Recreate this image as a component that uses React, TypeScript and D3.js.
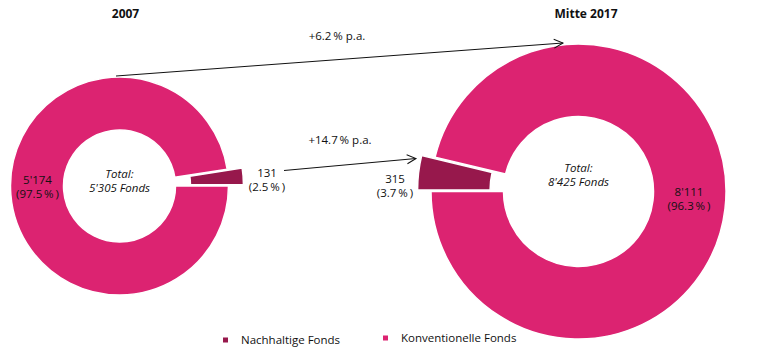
import React from "react";
import * as d3 from "d3";

const categories = ["Nachhaltige Fonds", "Konventionelle Fonds"];
const periods = ["2007", "Mitte 2017"];
const nachhaltig = [131, 315];
const konventionell = [5174, 8111];
const totals = [5305, 8425];
const growthLabels = ["+6.2\u2009% p.a.", "+14.7\u2009% p.a."];

const PINK = "#dc2371";
const DARK = "#97184c";
const FONT = "'Open Sans', 'Noto Sans', sans-serif";
const W = 766;
const H = 353;

const deg = (d: number) => (d * Math.PI) / 180;
const fmtInt = (v: number) => d3.format(",")(v).replace(/,/g, "'");
const fmtPct = (v: number) => "(" + d3.format(".1f")(v * 100) + "\u2009%\u2009)";

// layout (positions/sizes only)
const layout = [
  { cx: 119.5, cy: 186, r: 109, ir: 56, nachFirst: false, start: 90, explode: 15,
    konvLabel: [37.5, 186.5], nachLabel: [267, 180], totalY: 185 },
  { cx: 578.5, cy: 191.5, r: 147.5, ir: 75, nachFirst: true, start: 270, explode: 13.5,
    konvLabel: [689, 198.5], nachLabel: [395, 185.5], totalY: 178.5 },
];

function Donut({ i }: { i: number }) {
  const L = layout[i];
  const total = totals[i];
  const items = L.nachFirst
    ? [{ k: 0, v: nachhaltig[i] }, { k: 1, v: konventionell[i] }]
    : [{ k: 1, v: konventionell[i] }, { k: 0, v: nachhaltig[i] }];
  const pie = d3
    .pie<{ k: number; v: number }>()
    .sort(null)
    .value((d) => d.v)
    .startAngle(deg(L.start))
    .endAngle(deg(L.start + 360));
  const arc = d3
    .arc<d3.PieArcDatum<{ k: number; v: number }>>()
    .innerRadius(L.ir)
    .outerRadius(L.r);
  const arcs = pie(items);
  return (
    <g>
      <g transform={`translate(${L.cx},${L.cy})`}>
        {arcs.map((a, j) => {
          let tx = 0,
            ty = 0;
          if (a.data.k === 0) {
            const mid = (a.startAngle + a.endAngle) / 2;
            tx = Math.sin(mid) * L.explode;
            ty = -Math.cos(mid) * L.explode;
          }
          return (
            <path
              key={j}
              d={arc(a) || ""}
              transform={`translate(${tx},${ty})`}
              fill={a.data.k === 0 ? DARK : PINK}
              stroke="#fff"
              strokeWidth={1.5}
              strokeLinejoin="miter"
            />
          );
        })}
      </g>
      <text
        x={L.cx}
        y={L.totalY}
        textAnchor="middle"
        fontStyle="italic"
        fontSize={11.5}
        fontFamily={FONT}
        fill="#111"
      >
        <tspan x={L.cx} dy={-7}>Total:</tspan>
        <tspan x={L.cx} dy={14}>{fmtInt(total) + " Fonds"}</tspan>
      </text>
      <text
        x={L.konvLabel[0]}
        y={L.konvLabel[1]}
        textAnchor="middle"
        fontSize={11.5}
        fontFamily={FONT}
        fill="#111"
      >
        <tspan x={L.konvLabel[0]} dy={-3}>{fmtInt(konventionell[i])}</tspan>
        <tspan x={L.konvLabel[0]} dy={14}>{fmtPct(konventionell[i] / total)}</tspan>
      </text>
      <text
        x={L.nachLabel[0]}
        y={L.nachLabel[1]}
        textAnchor="middle"
        fontSize={11.5}
        fontFamily={FONT}
        fill="#111"
      >
        <tspan x={L.nachLabel[0]} dy={-3}>{fmtInt(nachhaltig[i])}</tspan>
        <tspan x={L.nachLabel[0]} dy={14}>{fmtPct(nachhaltig[i] / total)}</tspan>
      </text>
    </g>
  );
}

export default function App() {
  const titleX = [125.5, 586];
  const arrows = [
    { x1: 116, y1: 76, x2: 563, y2: 43, lx: 337, ly: 40 },
    { x1: 284, y1: 170.5, x2: 416, y2: 158.5, lx: 340, ly: 144 },
  ];
  return (
    <svg
      width={W}
      height={H}
      viewBox={`0 0 ${W} ${H}`}
      style={{ position: "absolute", left: 0, top: 0, background: "#fff" }}
    >
      <defs>
        <marker
          id="arr"
          markerUnits="userSpaceOnUse"
          markerWidth={20}
          markerHeight={20}
          refX={0}
          refY={0}
          viewBox="-10 -10 20 20"
          orient="auto"
        >
          <path d="M-9,-4.5 L0,0 L-9,4.5" fill="none" stroke="#111" strokeWidth={1} />
        </marker>
      </defs>
      <rect width={W} height={H} fill="#fff" />
      {periods.map((p, i) => (
        <text
          key={p}
          x={titleX[i]}
          y={18}
          textAnchor="middle"
          fontWeight="bold"
          fontSize={12}
          fontFamily={FONT}
          fill="#111"
        >
          {p}
        </text>
      ))}
      <Donut i={0} />
      <Donut i={1} />
      {arrows.map((a, i) => (
        <g key={i}>
          <line
            x1={a.x1}
            y1={a.y1}
            x2={a.x2}
            y2={a.y2}
            stroke="#111"
            strokeWidth={1}
            markerEnd="url(#arr)"
          />
          <text
            x={a.lx}
            y={a.ly}
            textAnchor="middle"
            fontSize={11.5}
            fontFamily={FONT}
            fill="#111"
          >
            {growthLabels[i]}
          </text>
        </g>
      ))}
      {categories.map((c, i) => {
        const x = i === 0 ? 223 : 383;
        const y = i === 0 ? 340 : 338;
        return (
          <g key={c}>
            <rect x={x} y={y - 2.5} width={5} height={5} fill={i === 0 ? DARK : PINK} />
            <text x={x + 18} y={y + 4} fontSize={11.5} fontFamily={FONT} fill="#111">
              {c}
            </text>
          </g>
        );
      })}
    </svg>
  );
}
